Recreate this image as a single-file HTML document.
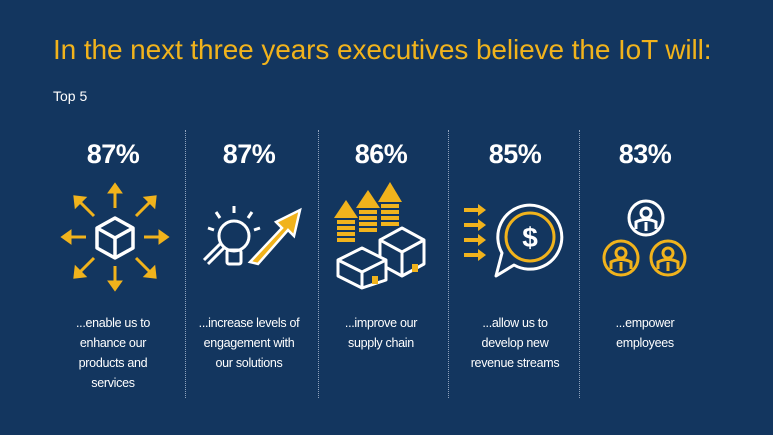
<!DOCTYPE html>
<html><head><meta charset="utf-8"><style>
body{margin:0;width:773px;height:435px;background:#13365f;font-family:"Liberation Sans",sans-serif;overflow:hidden;position:relative}
.t{position:absolute;left:53px;top:34px;color:#f1b31c;font-size:28px;letter-spacing:-0.1px;white-space:nowrap}
.s{position:absolute;left:53px;top:88px;color:#fff;font-size:14px}
.col{position:absolute;top:138px;width:130px;text-align:center;color:#fff}
.p{font-size:27px;font-weight:bold;line-height:32px;letter-spacing:-0.5px}
.c{position:absolute;top:175px;left:0;width:130px;font-size:12.5px;line-height:20px;letter-spacing:-0.3px}
.div{position:absolute;top:130px;height:268px;border-left:1.5px dotted #8fa3bd}
svg{position:absolute}
</style></head><body>
<div class="t">In the next three years executives believe the IoT will:</div>
<div class="s">Top 5</div>
<div class="div" style="left:185px"></div>
<div class="div" style="left:318px"></div>
<div class="div" style="left:448px"></div>
<div class="div" style="left:579px"></div>

<div class="col" style="left:48px"><div class="p">87%</div><div class="c">...enable us to<br>enhance our<br>products and<br>services</div></div>
<div class="col" style="left:184px"><div class="p">87%</div><div class="c">...increase levels of<br>engagement with<br>our solutions</div></div>
<div class="col" style="left:316px"><div class="p">86%</div><div class="c">...improve our<br>supply chain</div></div>
<div class="col" style="left:450px"><div class="p">85%</div><div class="c">...allow us to<br>develop new<br>revenue streams</div></div>
<div class="col" style="left:580px"><div class="p">83%</div><div class="c">...empower<br>employees</div></div>

<svg style="left:60px;top:182px" width="110" height="110" viewBox="0 0 110 110">
<g stroke="#f1b31c" stroke-width="3" fill="#f1b31c">
<line x1="55" y1="26" x2="55" y2="8"/><polygon points="50,10 60,10 55,3"/>
<line x1="55" y1="84" x2="55" y2="102"/><polygon points="50,100 60,100 55,107"/>
<line x1="26" y1="55" x2="8" y2="55"/><polygon points="10,50 10,60 3,55"/>
<line x1="84" y1="55" x2="102" y2="55"/><polygon points="100,50 100,60 107,55"/>
<line x1="34" y1="34" x2="20" y2="20"/><polygon points="16,24 24,16 15,15"/>
<line x1="76" y1="34" x2="90" y2="20"/><polygon points="86,16 94,24 95,15"/>
<line x1="34" y1="76" x2="20" y2="90"/><polygon points="16,86 24,94 15,95"/>
<line x1="76" y1="76" x2="90" y2="90"/><polygon points="94,86 86,94 95,95"/>
</g>
<g stroke="#fff" stroke-width="3.5" fill="none" stroke-linejoin="round">
<polygon points="55,36 73,46 73,66 55,76 37,66 37,46"/><polyline points="37,46 55,56 73,46"/><line x1="55" y1="56" x2="55" y2="76"/>
</g></svg>

<svg style="left:200px;top:200px" width="110" height="80" viewBox="0 0 110 80">
<polygon points="50,62 82,28 76,22 100,10 94,36 88,30 58,64" fill="#f1b31c" stroke="#fff" stroke-width="2.5"/>
<g stroke="#fff" stroke-width="3" fill="none">
<circle cx="34" cy="36" r="15"/><rect x="27" y="50" width="14" height="14" rx="2"/>
<line x1="20" y1="44" x2="4" y2="60"/><line x1="24" y1="48" x2="8" y2="64"/>
<line x1="34" y1="6" x2="34" y2="13"/><line x1="16" y1="12" x2="20" y2="18"/><line x1="52" y1="12" x2="48" y2="18"/><line x1="8" y1="28" x2="14" y2="30"/><line x1="60" y1="28" x2="54" y2="30"/>
</g></svg>

<svg style="left:332px;top:180px" width="110" height="110" viewBox="0 0 110 110">
<g fill="#f1b31c">
<polygon points="2,38 14,20 26,38"/><rect x="5" y="40" width="18" height="4"/><rect x="5" y="46" width="18" height="4"/><rect x="5" y="52" width="18" height="4"/><rect x="5" y="58" width="18" height="4"/>
<polygon points="24,28 36,10 48,28"/><rect x="27" y="30" width="18" height="4"/><rect x="27" y="36" width="18" height="4"/><rect x="27" y="42" width="18" height="4"/><rect x="27" y="48" width="18" height="4"/>
<polygon points="46,22 58,2 70,22"/><rect x="49" y="24" width="18" height="4"/><rect x="49" y="30" width="18" height="4"/><rect x="49" y="36" width="18" height="4"/><rect x="49" y="42" width="18" height="4"/>
</g>
<g stroke="#fff" stroke-width="3" fill="#13365f" stroke-linejoin="round">
<polygon points="48,60 70,48 92,60 92,84 70,96 48,84"/><polyline points="48,60 70,72 92,60" fill="none"/><line x1="70" y1="72" x2="70" y2="96"/>
<polygon points="6,80 30,68 54,80 54,100 30,108 6,96"/><polyline points="6,80 30,92 54,80" fill="none"/><line x1="30" y1="92" x2="30" y2="108"/>
</g>
<rect x="40" y="96" width="6" height="8" fill="#f1b31c"/><rect x="80" y="84" width="6" height="8" fill="#f1b31c"/>
</svg>

<svg style="left:462px;top:198px" width="110" height="90" viewBox="0 0 110 90">
<g fill="#f1b31c">
<rect x="2" y="10" width="16" height="4"/><polygon points="16,6 24,12 16,18"/>
<rect x="2" y="25" width="16" height="4"/><polygon points="16,21 24,27 16,33"/>
<rect x="2" y="40" width="16" height="4"/><polygon points="16,36 24,42 16,48"/>
<rect x="2" y="55" width="16" height="4"/><polygon points="16,51 24,57 16,63"/>
</g>
<path d="M52,67 A32,32 0 1 0 40,55 L34,78 Z" fill="none" stroke="#fff" stroke-width="3" stroke-linejoin="round"/>
<circle cx="68" cy="39" r="24" fill="none" stroke="#f1b31c" stroke-width="3"/>
<text x="68" y="49" text-anchor="middle" fill="#fff" font-size="28" font-weight="bold" font-family="Liberation Sans">$</text>
</svg>

<svg style="left:598px;top:198px" width="95" height="85" viewBox="0 0 95 85">
<g fill="none" stroke-width="3">
<g stroke="#fff"><circle cx="48" cy="20" r="17"/><circle cx="48" cy="15" r="5"/><path d="M38,31 L38,24 Q48,19 58,24 L58,31"/><line x1="48" y1="24" x2="48" y2="33"/></g>
<g stroke="#f1b31c"><circle cx="23" cy="60" r="17"/><circle cx="23" cy="55" r="5"/><path d="M13,71 L13,64 Q23,59 33,64 L33,71"/><line x1="23" y1="64" x2="23" y2="73"/></g>
<g stroke="#f1b31c"><circle cx="70" cy="60" r="17"/><circle cx="70" cy="55" r="5"/><path d="M60,71 L60,64 Q70,59 80,64 L80,71"/><line x1="70" y1="64" x2="70" y2="73"/></g>
</g></svg>
</body></html>
